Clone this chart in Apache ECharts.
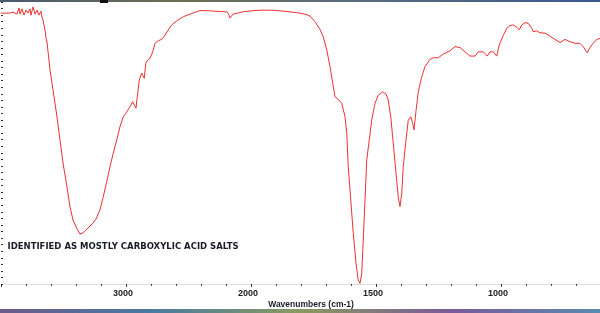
<!DOCTYPE html>
<html>
<head>
<meta charset="utf-8">
<script src="https://cdn.jsdelivr.net/npm/echarts@6/dist/echarts.min.js"></script>
<style>
html,body{margin:0;padding:0;background:#fff;}
#c{width:600px;height:313px;}
</style>
</head>
<body>
<div id="c"></div>
<script>
// Wavenumbers (cm-1)
const wavenumbers = [
4000,3984,3968,3952,3936,3920,3904,3888,3872,3856,3848,3832,3816,3800,3784,3768,3760,3744,3728,3712,3696,3680,3672,
3664,3648,3640,3632,3624,3608,3584,3552,3528,3504,3472,3448,3424,3392,3368,3360,3344,3320,3288,3264,3240,3208,
3182,3154,3128,3102,3074,3048,3022,2994,2968,2946,2934,2920,2910,2894,2874,2862,2854,2842,2830,2808,2786,2768,
2742,2714,2688,2662,2634,2594,2542,2488,2434,2408,2328,2248,2192,2176,2168,2156,2144,2064,2000,
1964,1912,1856,1804,1776,1764,1744,1724,1711,1697,1684,1673,1664,1658,1651,1644,1637,1624,1617,1611,1601,1591,
1580,1571,1564,1557,1551,1544,1537,1527,1517,1504,1491,1473,1466,1460,1451,1441,1431,1420,1411,1404,1397,1391,
1380,1371,1361,1353,1348,1340,1331,1317,1304,1284,1271,1251,1231,1204,1184,1164,1144,1124,1104,1091,1071,1055,
1044,1031,1017,1007,991,977,964,951,937,927,917,904,891,877,871,857,844,824,804,784,764,744,724,704,684,671,655,
644,631,617,604
];
// Transmittance (%T, approximate)
const transmittance = [
82.6,83.2,82.6,82.9,82.6,83.2,82.9,83.5,82.3,84.2,82.3,83.9,82.0,83.5,82.6,83.9,82.0,84.5,82.3,83.5,82.0,83.2,81.4,
80.5,77.5,75.0,73.8,73.2,65.3,59.2,50.9,43.9,36.9,29.6,23.5,19.5,16.8,15.2,14.6,15.6,16.5,17.7,18.6,19.8,22.6,
26.6,31.2,35.8,39.9,43.9,48.0,51.0,52.5,54.1,55.6,54.6,53.6,57.1,62.2,64.3,63.7,62.7,67.3,68.1,68.8,70.8,73.4,
74.2,74.6,75.9,77.5,79.0,80.3,81.5,82.3,83.0,83.4,83.3,83.1,83.0,82.0,81.1,81.7,82.3,83.0,83.3,
83.5,83.5,83.1,82.6,82.1,81.7,80.0,77.6,75.4,71.4,66.3,61.2,57.1,56.7,56.3,55.8,55.1,51.0,46.0,35.8,25.6,15.5,
6.3,1.2,0.2,3.3,13.4,25.6,37.8,43.9,50.0,55.1,57.6,58.6,58.4,57.9,56.1,51.0,42.9,33.8,26.6,23.6,27.7,35.8,
43.9,50.0,51.0,49.0,47.0,52.8,58.6,63.2,66.3,68.5,69.0,69.0,70.1,71.1,72.4,72.1,70.8,69.5,69.5,70.8,70.8,69.5,
70.8,70.8,69.5,72.9,75.8,78.0,78.8,79.0,78.3,77.5,79.0,79.7,79.5,78.0,76.9,77.2,76.6,76.5,75.6,74.6,73.6,74.6,73.9,73.4,73.4,72.4,70.5,
72.2,73.4,74.6,74.9
];
const tickLabels = [3000, 2000, 1500, 1000];
const annotation = 'IDENTIFIED AS MOSTLY CARBOXYLIC ACID SALTS';
const xTitle = 'Wavenumbers (cm-1)';

// Spectrometer axis: above 2000 cm-1 the scale is compressed by 2
function toAxis(w){ return w > 2000 ? 1000 + w / 2 : w; }
function fromAxis(u){ return u > 2000 ? 2 * u - 2000 : u; }

const data = wavenumbers.map((w, i) => [toAxis(w), transmittance[i]]);

const chart = echarts.init(document.getElementById('c'), null, {renderer: 'canvas'});
chart.setOption({
  animation: false,
  backgroundColor: '#ffffff',
  grid: {left: 1, top: 2, width: 625, height: 282, containLabel: false, outerBoundsMode: 'none'},
  xAxis: {
    type: 'value', inverse: true, min: 500, max: 3000, interval: 500,
    axisLine: {show: true, lineStyle: {color: '#e6dede', width: 1}},
    axisTick: {show: true, length: 3, lineStyle: {color: '#333'}},
    minorTick: {show: true, splitNumber: 5, length: 2, lineStyle: {color: '#444'}},
    splitLine: {show: false},
    axisLabel: {
      margin: 5, fontSize: 9, fontWeight: 'bold', color: '#222',
      fontFamily: 'Liberation Sans, Arial, sans-serif', padding: [0, 6, 0, 0],
      formatter: function (v) {
        const w = fromAxis(v);
        return tickLabels.indexOf(w) >= 0 ? String(w) : '';
      }
    }
  },
  yAxis: {
    type: 'value', min: 0, max: 86, interval: 2,
    axisLine: {show: false},
    axisTick: {show: true, inside: true, length: 2, lineStyle: {color: '#333'}},
    axisLabel: {show: false},
    splitLine: {show: false}
  },
  series: [{
    type: 'line', data: data, showSymbol: false, smooth: false,
    lineStyle: {color: '#ee3030', width: 1},
    clip: true
  }],
  graphic: [
    {type: 'rect', shape: {x: 0, y: 0, width: 600, height: 2},
     style: {fill: new echarts.graphic.LinearGradient(0, 0, 1, 0, [
       {offset: 0, color: '#4a5a70'}, {offset: 0.3, color: '#6a7050'},
       {offset: 0.6, color: '#5a6a80'}, {offset: 1, color: '#3a5a8a'}])}},
    {type: 'rect', shape: {x: 100, y: 0, width: 8, height: 3}, style: {fill: '#111'}},
    {type: 'rect', shape: {x: 0, y: 309, width: 600, height: 4},
     style: {fill: new echarts.graphic.LinearGradient(0, 0, 1, 0, [
       {offset: 0, color: '#6a5a8a'}, {offset: 0.25, color: '#4a7aa0'},
       {offset: 0.5, color: '#8a9a60'}, {offset: 0.75, color: '#7a5a9a'}, {offset: 1, color: '#5a8ab0'}])}},
    {type: 'text', left: 7.5, top: 242,
     style: {text: annotation, fontSize: 8.5, fontWeight: 'bold', fill: '#1a1a2a',
             fontFamily: 'DejaVu Sans, sans-serif'}},
    {type: 'text', x: 311, y: 304.5,
     style: {text: xTitle, fontSize: 8.5, fontWeight: 'bold', fill: '#1a1a2a',
             fontFamily: 'Liberation Sans, Arial, sans-serif', align: 'center', verticalAlign: 'middle'}}
  ]
});
</script>
</body>
</html>
